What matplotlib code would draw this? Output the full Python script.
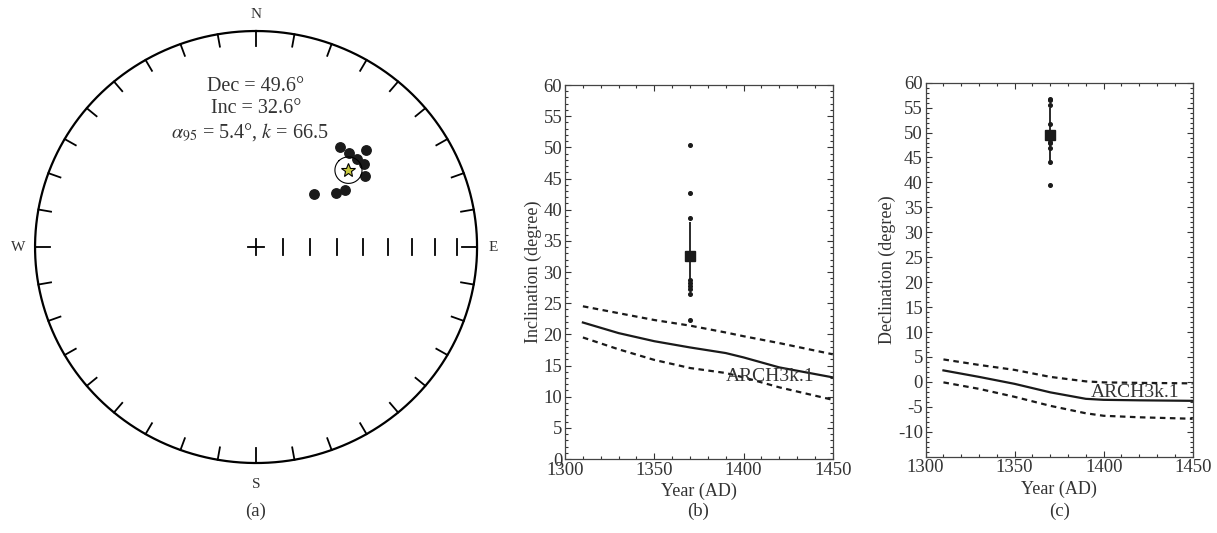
import numpy as np
import matplotlib
matplotlib.use("Agg")
import matplotlib.pyplot as plt
from matplotlib.ticker import MultipleLocator

plt.rcParams["font.family"] = ["Liberation Serif", "DejaVu Serif"]
plt.rcParams["mathtext.fontset"] = "stix"
plt.rcParams["axes.unicode_minus"] = False

# sample directions (stereonet + scatter in b/c)
sample_dec = [39.4, 44.1, 47.9, 48.2, 51.8, 56.5, 56.7, 55.5, 46.8]
sample_inc = [28.2, 27.7, 22.3, 27.2, 26.5, 28.7, 38.7, 42.7, 50.3]
mean_dec = 49.6
mean_inc = 32.6
a95 = 5.4
k_val = 66.5
site_year = 1370

# ARCH3k.1 model curves
model_year = [1310, 1330, 1350, 1370, 1390, 1400, 1420, 1450]
inc_mid = [21.9, 20.2, 18.9, 17.9, 17.0, 16.3, 14.7, 13.1]
inc_up = [24.5, 23.4, 22.3, 21.4, 20.3, 19.7, 18.6, 16.8]
inc_lo = [19.5, 17.6, 15.9, 14.6, 13.8, 13.1, 11.5, 9.5]
dec_mid = [2.3, 1.0, -0.4, -2.1, -3.4, -3.6, -3.7, -3.8]
dec_up = [4.5, 3.4, 2.4, 1.0, 0.1, -0.1, -0.2, -0.3]
dec_lo = [-0.1, -1.4, -3.0, -4.8, -6.3, -6.8, -7.1, -7.4]


def stereo(dec, inc):
    dec = np.radians(np.asarray(dec, float))
    inc = np.radians(np.asarray(inc, float))
    r = np.tan((np.pi / 2 - inc) / 2)
    return r * np.sin(dec), r * np.cos(dec)


def equal_area_r(inc):
    return np.sqrt(2) * np.sin(np.radians(90 - np.asarray(inc, float)) / 2)


def cone(dec, inc, alpha, n=200):
    d, i = np.radians(dec), np.radians(inc)
    m = np.array([np.cos(i) * np.cos(d), np.cos(i) * np.sin(d), np.sin(i)])
    u = np.cross(m, [0, 0, 1.0])
    u /= np.linalg.norm(u)
    v = np.cross(m, u)
    a = np.radians(alpha)
    t = np.linspace(0, 2 * np.pi, n)
    p = np.cos(a) * m[:, None] + np.sin(a) * (np.cos(t) * u[:, None] + np.sin(t) * v[:, None])
    decs = np.degrees(np.arctan2(p[1], p[0]))
    incs = np.degrees(np.arcsin(p[2]))
    return stereo(decs, incs)


fig = plt.figure(figsize=(12.17, 5.33), dpi=100)

# ---- (a) stereonet ----
ax = fig.add_axes([0.0288, 0.1313, 0.3632, 0.8105])
ax.set_xlim(-1, 1)
ax.set_ylim(-1, 1)
ax.axis("off")
t = np.linspace(0, 2 * np.pi, 400)
ax.plot(np.sin(t), np.cos(t), color="black", lw=1.6, clip_on=False)
for az in range(0, 360, 10):
    L = 0.068 if az % 90 == 0 else 0.058
    a = np.radians(az)
    ax.plot([np.sin(a), (1 - L) * np.sin(a)], [np.cos(a), (1 - L) * np.cos(a)],
            color="black", lw=1.3, clip_on=False)
# inclination ticks along E axis
for inc in range(80, 0, -10):
    r = equal_area_r(inc)
    ax.plot([r, r], [-0.035, 0.035], color="black", lw=1.3)
ax.plot([-0.035, 0.035], [0, 0], color="black", lw=1.3)
ax.plot([0, 0], [-0.037, 0.037], color="black", lw=1.3)

ax.text(0, 1.075, "N", ha="center", va="center", fontsize=11, color="#333")
ax.text(0, -1.1, "S", ha="center", va="center", fontsize=11, color="#333")
ax.text(-1.075, 0, "W", ha="center", va="center", fontsize=11, color="#333")
ax.text(1.075, 0, "E", ha="center", va="center", fontsize=11, color="#333")

sx, sy = stereo(sample_dec, sample_inc)
ax.plot(sx, sy, "o", color="#1a1a1a", ms=6.8, ls="none")
cx, cy = cone(mean_dec, mean_inc, a95)
ax.plot(cx, cy, color="black", lw=0.8)
mx, my = stereo(mean_dec, mean_inc)
ax.plot(mx, my, marker="*", ms=10, color="#c8c83c", mec="black", mew=0.8, ls="none")

ax.text(0, 0.745, "Dec = %.1f°" % mean_dec, ha="center", va="center", fontsize=14.5, color="#333")
ax.text(0, 0.64, "Inc = %.1f°" % mean_inc, ha="center", va="center", fontsize=14.5, color="#333")
ax.text(-0.03, 0.53, r"$\alpha_{95}$ = %.1f°, $k$ = %.1f" % (a95, k_val),
        ha="center", va="center", fontsize=14.5, color="#333")


def style(ax):
    ax.set_xlim(1300, 1450)
    ax.xaxis.set_major_locator(MultipleLocator(50))
    ax.xaxis.set_minor_locator(MultipleLocator(10))
    ax.yaxis.set_minor_locator(MultipleLocator(1))
    ax.tick_params(which="both", direction="in", top=True, right=True,
                   labelsize=13.5, colors="#333", width=0.8, pad=2)
    ax.tick_params(which="major", length=4)
    ax.tick_params(which="minor", length=2)
    for s in ax.spines.values():
        s.set_color("#444")
        s.set_linewidth(0.9)
    ax.set_xlabel("Year (AD)", fontsize=13, color="#333", labelpad=3)


# ---- (b) inclination ----
axb = fig.add_axes([0.4643, 0.1388, 0.22, 0.7017])
axb.plot(model_year, inc_mid, color="#1a1a1a", lw=1.6)
axb.plot(model_year, inc_up, color="#1a1a1a", lw=1.6, ls=(0, (2.5, 2)))
axb.plot(model_year, inc_lo, color="#1a1a1a", lw=1.6, ls=(0, (2.5, 2)))
axb.errorbar(site_year, mean_inc, yerr=a95, fmt="none", ecolor="#1a1a1a", elinewidth=1.3)
axb.plot([site_year] * len(sample_inc), sample_inc, "o", color="#1a1a1a", ms=2.6)
axb.plot(site_year, mean_inc, "s", color="#1a1a1a", ms=7.5)
axb.text(1390, 13.2, "ARCH3k.1", ha="left", va="center", fontsize=14, color="#333")
axb.set_ylim(0, 60)
axb.yaxis.set_major_locator(MultipleLocator(5))
style(axb)
axb.set_ylabel("Inclination (degree)", fontsize=13, color="#333", labelpad=1)

# ---- (c) declination ----
axc = fig.add_axes([0.7606, 0.1432, 0.2194, 0.7017])
axc.plot(model_year, dec_mid, color="#1a1a1a", lw=1.6)
axc.plot(model_year, dec_up, color="#1a1a1a", lw=1.6, ls=(0, (2.5, 2)))
axc.plot(model_year, dec_lo, color="#1a1a1a", lw=1.6, ls=(0, (2.5, 2)))
axc.errorbar(site_year, mean_dec, yerr=a95, fmt="none", ecolor="#1a1a1a", elinewidth=1.3)
axc.plot([site_year] * len(sample_dec), sample_dec, "o", color="#1a1a1a", ms=2.6)
axc.plot(site_year, mean_dec, "s", color="#1a1a1a", ms=7.5)
axc.text(1393, -2.2, "ARCH3k.1", ha="left", va="center", fontsize=14, color="#333")
axc.set_ylim(-15, 60)
axc.set_yticks(np.arange(-10, 61, 5))
style(axc)
axc.set_ylabel("Declination (degree)", fontsize=13, color="#333", labelpad=1)

fig.text(256 / 1217, 1 - 511 / 533, "(a)", ha="center", va="center", fontsize=13.5, color="#333")
fig.text(698 / 1217, 1 - 511 / 533, "(b)", ha="center", va="center", fontsize=13.5, color="#333")
fig.text(1060 / 1217, 1 - 511 / 533, "(c)", ha="center", va="center", fontsize=13.5, color="#333")

fig.savefig("out.png", dpi=100)
